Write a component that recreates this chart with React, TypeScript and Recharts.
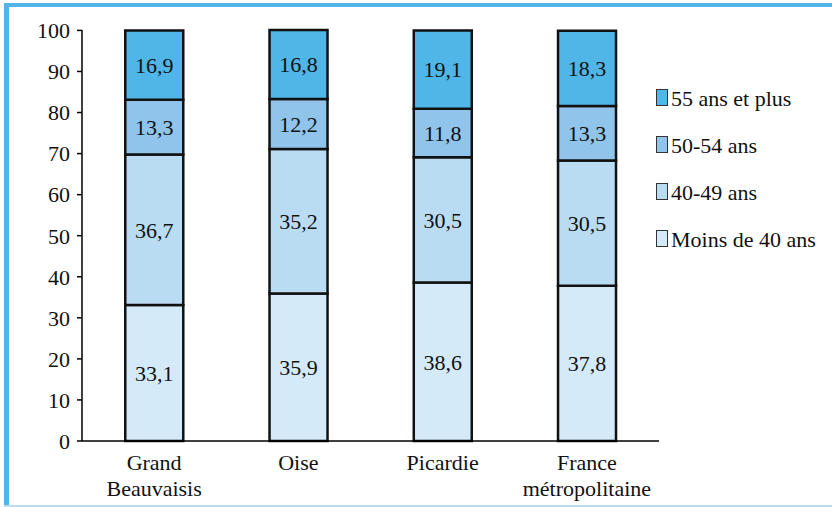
import { Bar, BarChart, XAxis, YAxis, LabelList } from 'recharts';

const categories = ['Grand\nBeauvaisis', 'Oise', 'Picardie', 'France\nmétropolitaine'];
const moins40 = [33.1, 35.9, 38.6, 37.8];
const ans4049 = [36.7, 35.2, 30.5, 30.5];
const ans5054 = [13.3, 12.2, 11.8, 13.3];
const ans55plus = [16.9, 16.8, 19.1, 18.3];
const yTicks = [0, 10, 20, 30, 40, 50, 60, 70, 80, 90, 100];

const series = [
  { key: 'moins40', name: 'Moins de 40 ans', color: '#d5eaf8' },
  { key: 'a4049', name: '40-49 ans', color: '#badcf3' },
  { key: 'a5054', name: '50-54 ans', color: '#90c4ea' },
  { key: 'a55', name: '55 ans et plus', color: '#4fb6e7' },
];

const data = categories.map((c, i) => ({
  cat: c,
  moins40: moins40[i],
  a4049: ans4049[i],
  a5054: ans5054[i],
  a55: ans55plus[i],
}));

const FONT = 'Liberation Serif';
const FS = 22;

const fmt = (v: any) => String(v).replace('.', ',');

const CatTick = (props: any) => {
  const { x, y, payload } = props;
  const lines = String(payload.value).split('\n');
  return (
    <g transform={`translate(${x},${y})`}>
      {lines.map((l, i) => (
        <text
          key={i}
          x={0}
          y={21 + i * 26}
          textAnchor="middle"
          fontFamily={FONT}
          fontSize={FS}
          fill="#111"
        >
          {l}
        </text>
      ))}
    </g>
  );
};

const legendItems = [...series].reverse();

export default function App() {
  return (
    <div style={{ position: 'absolute', left: 0, top: 0, width: 832, height: 507, background: '#fff', fontFamily: FONT }}>
      <div style={{ position: 'absolute', left: 4, top: 3, width: 828, height: 4, background: '#4fb6e7' }} />
      <div style={{ position: 'absolute', left: 4, top: 3, width: 5, height: 504, background: '#4fb6e7' }} />
      <div style={{ position: 'absolute', left: 4, top: 505, width: 828, height: 2, background: '#b8def5' }} />
      <BarChart
        width={832}
        height={507}
        data={data}
        barCategoryGap="30%"
        margin={{ top: 30, right: 173, left: 22, bottom: 0 }}
        style={{ position: 'absolute', left: 0, top: 0, fontFamily: FONT }}
      >
        <XAxis
          dataKey="cat"
          tick={<CatTick />}
          tickLine={false}
          axisLine={{ stroke: '#000', strokeWidth: 1.5 }}
          height={66}
          interval={0}
        />
        <YAxis
          domain={[0, 100]}
          ticks={yTicks}
          width={60}
          tickSize={5}
          tickMargin={7}
          axisLine={{ stroke: '#000', strokeWidth: 1.5 }}
          tickLine={{ stroke: '#000', strokeWidth: 1.5 }}
          tick={{ fontFamily: FONT, fontSize: FS, fill: '#111' }}
        />
        {series.map((s) => (
          <Bar
            key={s.key}
            dataKey={s.key}
            name={s.name}
            stackId="a"
            fill={s.color}
            stroke="#111"
            strokeWidth={2.5}
            isAnimationActive={false}
          >
            <LabelList
              dataKey={s.key}
              position="center"
              formatter={fmt}
              fontFamily={FONT}
              fontSize={FS}
              fill="#111"
            />
          </Bar>
        ))}
      </BarChart>
      <svg width={832} height={507} style={{ position: 'absolute', left: 0, top: 0 }}>
        {legendItems.map((s, i) => (
          <g key={s.key}>
            <rect x={656.5} y={89.5 + i * 47} width={11} height={16} fill={s.color} stroke="#333" strokeWidth={1} />
            <text x={671} y={106 + i * 47} fontFamily={FONT} fontSize={FS} fill="#111">
              {s.name}
            </text>
          </g>
        ))}
      </svg>
    </div>
  );
}
